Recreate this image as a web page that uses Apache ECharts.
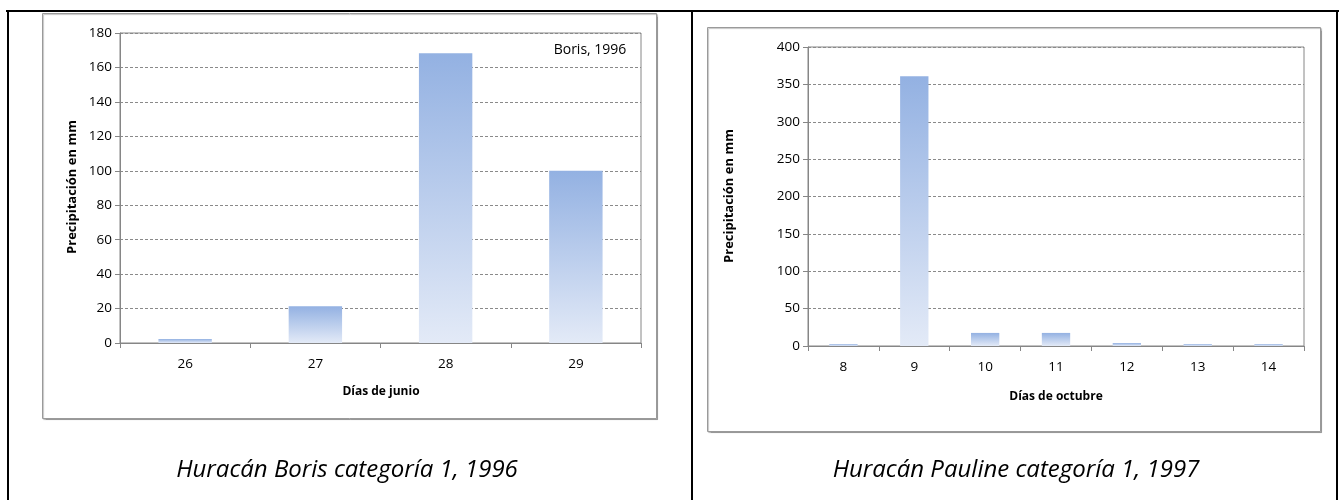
<!DOCTYPE html>
<html>
<head>
<meta charset="utf-8">
<script src="https://cdn.jsdelivr.net/npm/echarts@6/dist/echarts.min.js"></script>
<style>
html,body{margin:0;padding:0;background:#fff;}
#c{width:1339px;height:500px;}
</style>
</head>
<body>
<div id="c"></div>
<script>
// ---- data ----
var borisDays = ['26', '27', '28', '29'];
var borisRain = [2.3, 21.4, 168.3, 100];
var paulineDays = ['8', '9', '10', '11', '12', '13', '14'];
var paulineRain = [2.5, 361, 17.5, 17.5, 4, 2.5, 2.5];
var yTitle = 'Precipitación en mm';
var xTitleBoris = 'Días de junio';
var xTitlePauline = 'Días de octubre';
var captionBoris = 'Huracán Boris categoría 1, 1996';
var captionPauline = 'Huracán Pauline categoría 1, 1997';
var borisTag = 'Boris, 1996';

var FONT = "'Open Sans', sans-serif";
var chart = echarts.init(document.getElementById('c'), null, {renderer: 'canvas'});

function barGrad() {
  return new echarts.graphic.LinearGradient(0, 0, 0, 1, [
    {offset: 0, color: '#93b1e2'},
    {offset: 1, color: '#e3eaf7'}
  ]);
}

function yAxis(idx, max, interval) {
  return {
    type: 'value', gridIndex: idx, min: 0, max: max, interval: interval,
    axisLine: {show: true, lineStyle: {color: '#868686', width: 1}},
    axisTick: {show: true, length: 5, lineStyle: {color: '#868686'}},
    axisLabel: {color: '#000', fontSize: 13.5, fontFamily: FONT, margin: 8},
    splitLine: {show: true, lineStyle: {color: '#8a8a8a', type: [3, 2], width: 1}}
  };
}
function xAxis(idx, data) {
  return {
    type: 'category', gridIndex: idx, data: data,
    axisLine: {show: true, lineStyle: {color: '#868686', width: 1}},
    axisTick: {show: true, length: 5, alignWithLabel: false, lineStyle: {color: '#868686'}},
    axisLabel: {color: '#000', fontSize: 13.5, fontFamily: FONT, margin: 14},
    splitLine: {show: false}
  };
}

var option = {
  animation: false,
  backgroundColor: '#fff',
  grid: [
    {left: 120, top: 33, width: 521, height: 310, show: true, borderColor: '#868686', borderWidth: 1, backgroundColor: 'transparent'},
    {left: 808, top: 47, width: 496, height: 299, show: true, borderColor: '#868686', borderWidth: 1, backgroundColor: 'transparent'}
  ],
  xAxis: [xAxis(0, borisDays), xAxis(1, paulineDays)],
  yAxis: [yAxis(0, 180, 20), yAxis(1, 400, 50)],
  series: [
    {type: 'bar', xAxisIndex: 0, yAxisIndex: 0, data: borisRain, barWidth: '41%',
     itemStyle: {color: barGrad()}, z: 3},
    {type: 'bar', xAxisIndex: 1, yAxisIndex: 1, data: paulineRain, barWidth: '40%',
     itemStyle: {color: barGrad()}, z: 3}
  ],
  graphic: [
    // table borders
    {type: 'line', shape: {x1: 6, y1: 11, x2: 1339, y2: 11}, style: {stroke: '#000', lineWidth: 2}, z: 10},
    {type: 'line', shape: {x1: 8, y1: 10, x2: 8, y2: 500}, style: {stroke: '#000', lineWidth: 2}, z: 10},
    {type: 'line', shape: {x1: 692, y1: 10, x2: 692, y2: 500}, style: {stroke: '#000', lineWidth: 2}, z: 10},
    {type: 'line', shape: {x1: 1337, y1: 10, x2: 1337, y2: 500}, style: {stroke: '#000', lineWidth: 2}, z: 10},
    // chart boxes
    {type: 'rect', shape: {x: 42.5, y: 13.5, width: 614, height: 405}, z: -10,
     style: {fill: '#fff', stroke: '#9a9a9a', lineWidth: 1, shadowColor: 'rgba(0,0,0,0.25)', shadowOffsetX: 1, shadowOffsetY: 1, shadowBlur: 1}},
    {type: 'rect', shape: {x: 707.5, y: 27.5, width: 613, height: 404}, z: -10,
     style: {fill: '#fff', stroke: '#9a9a9a', lineWidth: 1, shadowColor: 'rgba(0,0,0,0.25)', shadowOffsetX: 1, shadowOffsetY: 1, shadowBlur: 1}},
    // y axis titles
    {type: 'text', x: 72, y: 187, rotation: Math.PI / 2,
     style: {text: yTitle, font: 'bold 13px ' + FONT, fill: '#000', align: 'center', verticalAlign: 'middle'}},
    {type: 'text', x: 729, y: 196, rotation: Math.PI / 2,
     style: {text: yTitle, font: 'bold 13px ' + FONT, fill: '#000', align: 'center', verticalAlign: 'middle'}},
    // x axis titles
    {type: 'text', x: 381, y: 392,
     style: {text: xTitleBoris, font: 'bold 12px ' + FONT, fill: '#000', align: 'center', verticalAlign: 'middle'}},
    {type: 'text', x: 1056, y: 397,
     style: {text: xTitlePauline, font: 'bold 12px ' + FONT, fill: '#000', align: 'center', verticalAlign: 'middle'}},
    // tag
    {type: 'text', x: 590, y: 50, z: 5,
     style: {text: borisTag, font: '14px ' + FONT, fill: '#000', align: 'center', verticalAlign: 'middle'}},
    // captions
    {type: 'text', x: 347, y: 470,
     style: {text: captionBoris, font: 'italic 24px ' + FONT, fill: '#000', align: 'center', verticalAlign: 'middle'}},
    {type: 'text', x: 1016, y: 470,
     style: {text: captionPauline, font: 'italic 24px ' + FONT, fill: '#000', align: 'center', verticalAlign: 'middle'}}
  ]
};
chart.setOption(option);
</script>
</body>
</html>
